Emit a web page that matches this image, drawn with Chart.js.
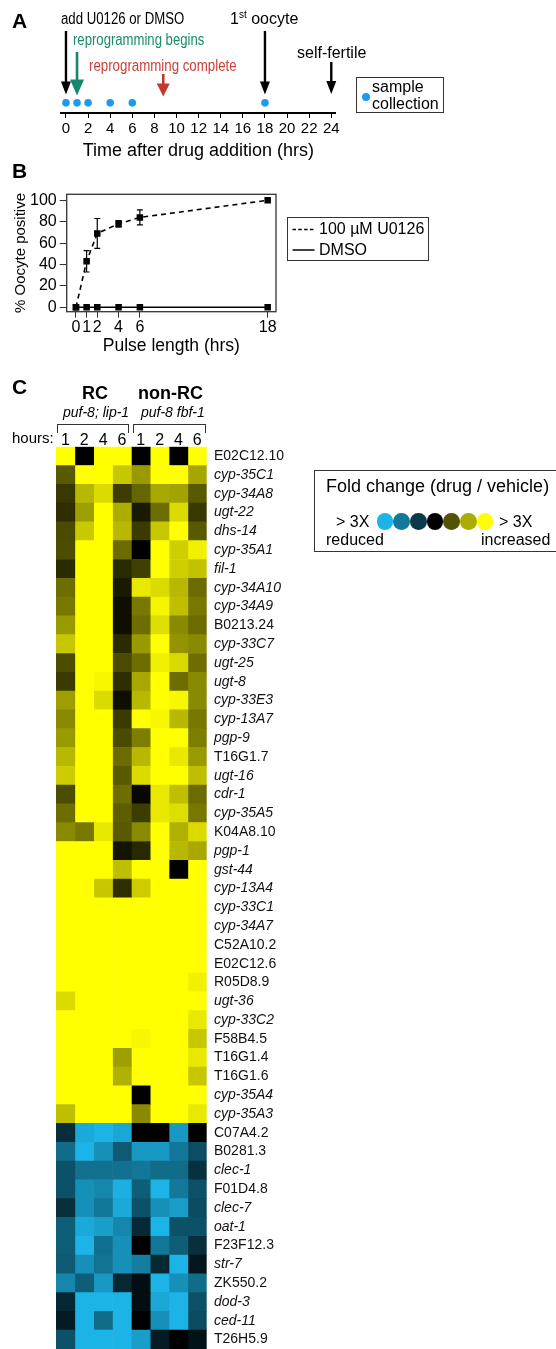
<!DOCTYPE html>
<html>
<head>
<meta charset="utf-8">
<script src="https://cdn.jsdelivr.net/npm/chart.js@4/dist/chart.umd.min.js"></script>
<style>
  html,body{margin:0;padding:0;background:#fff;}
  body{width:556px;height:1349px;position:relative;overflow:hidden;font-family:'Liberation Sans',Arial,sans-serif;color:#000;}
  canvas{position:absolute;}
  .t{position:absolute;white-space:nowrap;line-height:1;}
  .b{font-weight:bold;}
  .i{font-style:italic;}
  .box{position:absolute;border:1.3px solid #333;box-sizing:border-box;}
  .line{position:absolute;background:#333;}
  .dot{position:absolute;border-radius:50%;}
</style>
</head>
<body>
<!-- Panel A -->
<canvas id="chartA" width="350" height="162" style="left:0;top:0;"></canvas>
<div class="t b" style="left:12px;top:10px;font-size:21px;">A</div>
<div class="t" style="left:61px;top:11px;font-size:16px;transform:scaleX(0.825);transform-origin:left;">add U0126 or DMSO</div>
<div class="t" style="left:73px;top:32px;font-size:16px;color:#1b8a6c;transform:scaleX(0.82);transform-origin:left;">reprogramming begins</div>
<div class="t" style="left:89px;top:58px;font-size:16px;color:#c9423a;transform:scaleX(0.83);transform-origin:left;">reprogramming complete</div>
<div class="t" style="left:230px;top:11px;font-size:16px;">1<sup style="font-size:10px;vertical-align:6px;line-height:0;">st</sup> oocyte</div>
<div class="t" style="left:297px;top:45px;font-size:16px;">self-fertile</div>
<div class="box" style="left:356px;top:77px;width:88px;height:36px;"></div>
<div class="dot" style="left:362px;top:93px;width:8px;height:8px;background:#1a9bf0;"></div>
<div class="t" style="left:372px;top:79px;font-size:16px;">sample</div>
<div class="t" style="left:372px;top:96px;font-size:16px;">collection</div>

<!-- Panel B -->
<canvas id="chartB" width="290" height="175" style="left:0;top:185px;"></canvas>
<div class="t b" style="left:12px;top:160px;font-size:21px;">B</div>
<div class="box" style="left:287px;top:217px;width:142px;height:44px;"></div>
<svg style="position:absolute;left:290px;top:222px;" width="28" height="34">
  <line x1="2.5" y1="7.5" x2="24.5" y2="7.5" stroke="#000" stroke-width="1.5" stroke-dasharray="3.5,2.3"/>
  <line x1="2.5" y1="28" x2="24.5" y2="28" stroke="#000" stroke-width="1.5"/>
</svg>
<div class="t" style="left:319px;top:221px;font-size:16px;">100 µM U0126</div>
<div class="t" style="left:319px;top:242px;font-size:16px;">DMSO</div>

<!-- Panel C -->
<div class="t b" style="left:12px;top:376px;font-size:21px;">C</div>
<div class="t b" style="left:82px;top:384px;font-size:18px;">RC</div>
<div class="t b" style="left:138px;top:384px;font-size:18px;">non-RC</div>
<div class="t i" style="left:63px;top:405px;font-size:14px;">puf-8; lip-1</div>
<div class="t i" style="left:141px;top:405px;font-size:14px;">puf-8 fbf-1</div>
<div class="line" style="left:57px;top:424px;width:72px;height:1px;"></div>
<div class="line" style="left:57px;top:424px;width:1px;height:9px;"></div>
<div class="line" style="left:128px;top:424px;width:1px;height:9px;"></div>
<div class="line" style="left:133px;top:424px;width:73px;height:1px;"></div>
<div class="line" style="left:133px;top:424px;width:1px;height:9px;"></div>
<div class="line" style="left:205px;top:424px;width:1px;height:9px;"></div>
<div class="t" style="left:12px;top:430px;font-size:15px;">hours:</div>
<canvas id="chartC" width="556" height="923" style="left:0;top:426px;"></canvas>

<div class="box" style="left:314px;top:470px;width:250px;height:82px;"></div>
<div class="t" style="left:326px;top:477px;font-size:18px;">Fold change (drug / vehicle)</div>
<div class="t" style="left:336px;top:514px;font-size:16px;">&gt; 3X</div>
<div class="t" style="left:499px;top:514px;font-size:16px;">&gt; 3X</div>
<div class="t" style="left:326px;top:532px;font-size:16px;">reduced</div>
<div class="t" style="left:481px;top:532px;font-size:16px;">increased</div>
<div id="legendDots"></div>

<script>
// ---------- Panel A data ----------
const timeTicks = [0, 2, 4, 6, 8, 10, 12, 14, 16, 18, 20, 22, 24];
const sampleTimes = [0, 1, 2, 4, 6, 18];
const eventNames = ['add U0126 or DMSO', 'reprogramming begins', 'reprogramming complete', '1st oocyte', 'self-fertile'];
const eventTimes = [0, 1, 8.8, 18, 24];

// ---------- Panel B data ----------
const pulseHours = [0, 1, 2, 4, 6, 18];
const u0126 = [0, 43, 69, 78, 84, 100];
const u0126Low = [null, 33, 55, 75, 77, null];
const u0126High = [null, 53, 83, 81, 91, null];
const dmso = [0, 0, 0, 0, 0, 0];
const yTicksB = [0, 20, 40, 60, 80, 100];

// ---------- Panel C data (log3 fold change: +1 = >3X increased, -1 = >3X reduced) ----------
const genes = ['E02C12.10','cyp-35C1','cyp-34A8','ugt-22','dhs-14','cyp-35A1','fil-1','cyp-34A10','cyp-34A9','B0213.24',
  'cyp-33C7','ugt-25','ugt-8','cyp-33E3','cyp-13A7','pgp-9','T16G1.7','ugt-16','cdr-1','cyp-35A5',
  'K04A8.10','pgp-1','gst-44','cyp-13A4','cyp-33C1','cyp-34A7','C52A10.2','E02C12.6','R05D8.9','ugt-36',
  'cyp-33C2','F58B4.5','T16G1.4','T16G1.6','cyp-35A4','cyp-35A3',
  'C07A4.2','B0281.3','clec-1','F01D4.8','clec-7','oat-1','F23F12.3','str-7','ZK550.2','dod-3','ced-11','T26H5.9'];
const hourLabels = ['1', '2', '4', '6', '1', '2', '4', '6'];

const rc1h = [1,0.35,0.22,0.18,0.29,0.3,0.17,0.43,0.47,0.6,
  0.78,0.3,0.23,0.62,0.54,0.6,0.72,0.8,0.3,0.43,
  0.54,1,1,1,1,1,1,1,1,0.86,
  1,1,1,1,1,0.75,
  -0.25,-0.6,-0.45,-0.45,-0.26,-0.52,-0.52,-0.5,-0.75,-0.22,-0.15,-0.45];
const rc2h = [0,1,0.72,0.62,0.79,1,1,1,1,1,
  1,1,1,1,1,1,1,1,1,1,
  0.47,1,1,1,1,1,1,1,1,1,
  1,1,1,1,1,1,
  -0.94,-1,-0.63,-0.8,-0.8,-0.94,-1,-0.8,-0.52,-1,-1,-1];
const rc4h = [1,1,0.86,1,1,1,1,1,1,1,
  1,1,0.97,0.86,1,1,1,1,1,1,
  0.91,1,1,0.78,1,1,1,1,1,1,
  1,1,1,1,1,1,
  -1,-0.8,-0.63,-0.75,-0.66,-0.88,-0.62,-0.64,-0.85,-1,-0.6,-1];
const rc6h = [1,0.78,0.24,0.68,0.72,0.42,0.17,0.1,0.06,0.06,
  0.17,0.29,0.18,0.06,0.23,0.29,0.42,0.35,0.43,0.37,
  0.35,0.08,0.75,0.18,1,1,1,1,1,1,
  1,1,0.62,0.69,1,1,
  -0.93,-0.5,-0.63,-0.98,-0.94,-0.75,-0.8,-0.8,-0.22,-1,-1,-1];
const non1h = [0,0.6,0.4,0.1,0.23,0,0.25,0.91,0.47,0.43,
  0.6,0.43,0.66,0.72,1,0.49,0.72,0.86,0.03,0.24,
  0.54,0.16,1,0.8,1,1,1,1,1,1,
  1,0.97,1,1,0,0.54,
  0,-0.85,-0.66,-0.52,-0.45,-0.23,0,-0.7,-0.08,-0.08,0,-0.88];
const non2h = [1,1,0.66,0.43,0.78,1,1,0.86,0.96,0.87,
  1,0.94,1,1,0.97,1,1,1,0.91,0.91,
  1,1,1,1,1,1,1,1,1,1,
  1,1,1,1,1,1,
  0,-0.85,-0.6,-1,-0.8,-1,-0.66,-0.22,-1,-0.93,-0.8,-0.15];
const non4h = [0,1,0.64,0.86,1,0.81,0.81,0.72,0.75,0.54,
  0.58,0.85,0.43,0.97,0.72,1,0.91,1,0.75,0.87,
  0.69,0.72,0,1,1,1,1,1,1,1,
  1,1,1,1,1,1,
  -0.85,-0.66,-0.6,-0.67,-0.88,-0.45,-0.52,-1,-0.8,-1,-1,0];
const non6h = [1,0.65,0.35,0.22,0.35,0.94,0.76,0.42,0.47,0.42,
  0.54,0.43,0.54,0.54,0.47,0.49,0.6,0.75,0.42,0.47,
  0.86,0.66,1,1,1,1,1,1,0.94,1,
  0.91,0.78,0.91,0.78,1,0.91,
  0,-0.43,-0.27,-0.45,-0.42,-0.45,-0.26,-0.13,-0.6,-0.45,-0.42,-0.1];
const legendSteps = [-1, -0.67, -0.33, 0, 0.33, 0.67, 1];

// ---------- helpers ----------
const FONT = "'Liberation Sans', Arial, sans-serif";
Chart.defaults.font.family = FONT;
Chart.defaults.color = '#000';

function foldColor(v) {
  if (v >= 0) { const c = Math.round(255 * Math.min(v, 1)); return `rgb(${c},${c},0)`; }
  const t = Math.min(-v, 1);
  return `rgb(${Math.round(28 * t)},${Math.round(180 * t)},${Math.round(230 * t)})`;
}
function noPad(s) { s.paddingTop = 0; s.paddingBottom = 0; }

// ---------- Panel A ----------
const arrowStyles = [
  {color: '#000', top: 31, tip: 94.5, hw: 5, hh: 13, lw: 2.4},
  {color: '#16876a', top: 52, tip: 95.5, hw: 7, hh: 16, lw: 2.6},
  {color: '#c0392b', top: 74, tip: 96.5, hw: 6.5, hh: 13, lw: 2.6},
  {color: '#000', top: 31, tip: 94.5, hw: 5, hh: 13, lw: 2.4},
  {color: '#000', top: 62, tip: 94, hw: 5, hh: 13, lw: 2.4}
];
const arrowPlugin = {
  id: 'arrows',
  afterDatasetsDraw(chart) {
    const ctx = chart.ctx, xs = chart.scales.x;
    eventTimes.forEach((t, i) => {
      const s = arrowStyles[i];
      const x = xs.getPixelForValue(t);
      ctx.save();
      ctx.strokeStyle = s.color; ctx.fillStyle = s.color; ctx.lineWidth = s.lw;
      ctx.beginPath(); ctx.moveTo(x, s.top); ctx.lineTo(x, s.tip - s.hh + 1); ctx.stroke();
      ctx.beginPath(); ctx.moveTo(x - s.hw, s.tip - s.hh); ctx.lineTo(x + s.hw, s.tip - s.hh); ctx.lineTo(x, s.tip); ctx.closePath(); ctx.fill();
      ctx.restore();
    });
  }
};
new Chart(document.getElementById('chartA'), {
  type: 'scatter',
  data: { datasets: [{ label: 'sample collection', data: sampleTimes.map(t => ({x: t, y: 10.5})),
    backgroundColor: '#1a9bf0', borderWidth: 0, pointRadius: 3.8 }] },
  options: {
    responsive: false, animation: false, devicePixelRatio: 1,
    layout: { padding: { left: 61, right: 14.3, top: 0, bottom: 0 } },
    plugins: { legend: { display: false }, tooltip: { enabled: false } },
    scales: {
      x: { type: 'linear', min: -0.45, max: 24.4,
        afterBuildTicks: s => { s.ticks = timeTicks.map(v => ({value: v})); },
        grid: { display: true, drawOnChartArea: false, drawTicks: true, tickLength: 5, color: '#000', lineWidth: 1 },
        border: { display: true, color: '#000', width: 2 },
        ticks: { font: { size: 15 }, color: '#000', padding: 2, maxRotation: 0, autoSkip: false },
        title: { display: true, text: 'Time after drug addition (hrs)', font: { size: 18 }, color: '#000', padding: { top: 0, bottom: 0 } },
        afterFit: s => { s.height = 49; } },
      y: { display: false, min: 0, max: 113 }
    }
  },
  plugins: [arrowPlugin]
});

// ---------- Panel B ----------
const frameErrPlugin = {
  id: 'frameErr',
  beforeDatasetsDraw(chart) {
    const {ctx, chartArea: a} = chart;
    ctx.save(); ctx.strokeStyle = '#333'; ctx.lineWidth = 1.3;
    ctx.strokeRect(a.left, a.top, a.right - a.left, a.bottom - a.top); ctx.restore();
  },
  afterDatasetsDraw(chart) {
    const ctx = chart.ctx, xs = chart.scales.x, ys = chart.scales.y;
    ctx.save(); ctx.strokeStyle = '#000'; ctx.lineWidth = 1.2;
    pulseHours.forEach((h, i) => {
      if (u0126Low[i] == null) return;
      const x = xs.getPixelForValue(h), y1 = ys.getPixelForValue(u0126Low[i]), y2 = ys.getPixelForValue(u0126High[i]);
      ctx.beginPath();
      ctx.moveTo(x, y1); ctx.lineTo(x, y2);
      ctx.moveTo(x - 3, y1); ctx.lineTo(x + 3, y1);
      ctx.moveTo(x - 3, y2); ctx.lineTo(x + 3, y2);
      ctx.stroke();
    });
    ctx.restore();
  }
};
new Chart(document.getElementById('chartB'), {
  type: 'scatter',
  data: { datasets: [
    { label: '100 µM U0126', data: pulseHours.map((h, i) => ({x: h, y: u0126[i]})), showLine: true,
      borderColor: '#000', borderWidth: 1.6, borderDash: [5, 4], pointStyle: 'rect', pointRadius: 4.6,
      pointBackgroundColor: '#000', pointBorderWidth: 0 },
    { label: 'DMSO', data: pulseHours.map((h, i) => ({x: h, y: dmso[i]})), showLine: true,
      borderColor: '#000', borderWidth: 1.6, pointStyle: 'rect', pointRadius: 4.6,
      pointBackgroundColor: '#000', pointBorderWidth: 0 }
  ] },
  options: {
    responsive: false, animation: false, devicePixelRatio: 1,
    layout: { padding: { left: 6, right: 14, top: 9.3, bottom: 0 } },
    plugins: { legend: { display: false }, tooltip: { enabled: false } },
    scales: {
      x: { type: 'linear', min: -0.87, max: 18.78,
        afterBuildTicks: s => { s.ticks = pulseHours.map(v => ({value: v})); },
        grid: { display: true, drawOnChartArea: false, drawTicks: true, tickLength: 6, color: '#333' },
        border: { display: false },
        ticks: { font: { size: 16 }, color: '#000', padding: 0, maxRotation: 0, autoSkip: false },
        title: { display: true, text: 'Pulse length (hrs)', font: { size: 17.5 }, color: '#000', padding: { top: 0, bottom: 3 } },
        afterFit: s => { s.height = 48.3; s.paddingLeft = 0; s.paddingRight = 0; } },
      y: { type: 'linear', min: -4.1, max: 105.6,
        afterBuildTicks: s => { s.ticks = yTicksB.map(v => ({value: v})); },
        grid: { display: true, drawOnChartArea: false, drawTicks: true, tickLength: 7, color: '#333' },
        border: { display: false },
        ticks: { font: { size: 16 }, color: '#000', padding: 3 },
        title: { display: true, text: '% Oocyte positive', font: { size: 15 }, color: '#000', padding: { top: 6, bottom: 0 } },
        afterFit: s => { s.width = 60.7; noPad(s); } }
    }
  },
  plugins: [frameErrPlugin]
});

// ---------- Panel C heatmap ----------
const foldColumns = [rc1h, rc2h, rc4h, rc6h, non1h, non2h, non4h, non6h];
new Chart(document.getElementById('chartC'), {
  type: 'bar',
  data: {
    labels: genes,
    datasets: foldColumns.map((col, ci) => ({
      label: (ci < 4 ? 'RC ' : 'non-RC ') + hourLabels[ci] + ' h',
      data: genes.map(() => 1),
      backgroundColor: col.map(foldColor),
      borderWidth: 0, barPercentage: 1, categoryPercentage: 1
    }))
  },
  options: {
    indexAxis: 'y', responsive: false, animation: false, devicePixelRatio: 1,
    layout: { padding: { left: 56, right: 0, top: 0, bottom: 0 } },
    plugins: { legend: { display: false }, tooltip: { enabled: false } },
    scales: {
      x: { type: 'linear', position: 'top', stacked: true, min: 0, max: 8,
        afterBuildTicks: s => { s.ticks = hourLabels.map((_, i) => ({value: i + 0.5})); },
        grid: { display: false, drawTicks: false }, border: { display: false },
        ticks: { callback: (v, i) => hourLabels[i], font: { size: 16, lineHeight: 1 }, color: '#000', padding: -1.5, maxRotation: 0, autoSkip: false },
        afterFit: s => { s.height = 20.7; s.paddingLeft = 0; s.paddingRight = 0; } },
      y: { type: 'category', position: 'right', stacked: true, offset: true,
        grid: { display: false, drawTicks: false }, border: { display: false },
        ticks: { autoSkip: false, padding: 7.3, color: '#111',
          font: ctx => ({ size: 14, family: FONT, style: (genes[ctx.index] || '').includes('-') ? 'italic' : 'normal' }) },
        afterFit: s => { s.width = 349.3; noPad(s); } }
    }
  }
});

// Fold change legend circles
const ld = document.getElementById('legendDots');
legendSteps.forEach((v, i) => {
  const d = document.createElement('div');
  d.className = 'dot';
  d.style.cssText = `left:${385 - 8.3 + i * 16.67}px;top:${521.7 - 8.3}px;width:16.6px;height:16.6px;background:${foldColor(v)};`;
  ld.appendChild(d);
});
</script>
</body>
</html>
